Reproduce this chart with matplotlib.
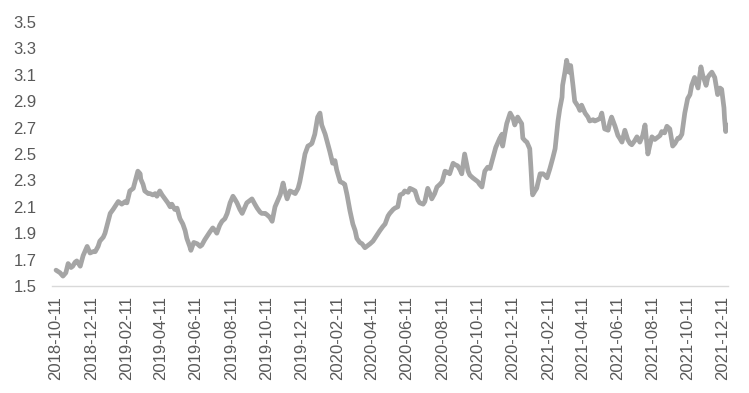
import matplotlib
matplotlib.use("Agg")
import matplotlib.pyplot as plt
import pandas as pd

dates = [
"2018-10-11","2018-10-18","2018-10-23","2018-10-28","2018-11-01","2018-11-06","2018-11-09","2018-11-13","2018-11-16","2018-11-22",
"2018-11-27","2018-11-30","2018-12-04","2018-12-09","2018-12-14","2018-12-18","2018-12-23","2018-12-26","2019-01-01","2019-01-04",
"2019-01-07","2019-01-13","2019-01-18","2019-01-21","2019-01-27","2019-02-02","2019-02-08","2019-02-11","2019-02-16","2019-02-22",
"2019-02-27","2019-03-02","2019-03-06","2019-03-07","2019-03-11","2019-03-14","2019-03-20","2019-03-23","2019-03-28","2019-04-01",
"2019-04-04","2019-04-09","2019-04-13","2019-04-18","2019-04-23","2019-04-27","2019-04-30","2019-05-05","2019-05-09","2019-05-14",
"2019-05-19","2019-05-23","2019-05-26","2019-05-31","2019-06-02","2019-06-07","2019-06-13","2019-06-18","2019-06-21","2019-06-26",
"2019-07-02","2019-07-05","2019-07-10","2019-07-14","2019-07-17","2019-07-22","2019-07-26","2019-07-31","2019-08-04","2019-08-09",
"2019-08-14","2019-08-17","2019-08-21","2019-08-26","2019-08-30","2019-09-04","2019-09-07","2019-09-13","2019-09-16","2019-09-21",
"2019-09-25","2019-09-30","2019-10-03","2019-10-09","2019-10-12","2019-10-17","2019-10-21","2019-10-26","2019-10-31","2019-11-04",
"2019-11-09","2019-11-12","2019-11-16","2019-11-21","2019-11-26","2019-11-30","2019-12-05","2019-12-08","2019-12-12","2019-12-17",
"2019-12-22","2019-12-26","2019-12-29","2020-01-03","2020-01-08","2020-01-12","2020-01-15","2020-01-21","2020-01-26","2020-01-29",
"2020-02-03","2020-02-07","2020-02-10","2020-02-16","2020-02-21","2020-02-24","2020-02-28","2020-03-04","2020-03-09","2020-03-13",
"2020-03-16","2020-03-21","2020-03-25","2020-03-30","2020-04-02","2020-04-08","2020-04-13","2020-04-16","2020-04-22","2020-04-25",
"2020-04-30","2020-05-04","2020-05-09","2020-05-12","2020-05-18","2020-05-21","2020-05-26","2020-05-30","2020-06-04","2020-06-07",
"2020-06-13","2020-06-16","2020-06-21","2020-06-25","2020-06-30","2020-07-03","2020-07-09","2020-07-12","2020-07-17","2020-07-21",
"2020-07-24","2020-07-29","2020-08-02","2020-08-07","2020-08-11","2020-08-16","2020-08-21","2020-08-24","2020-08-30","2020-09-02",
"2020-09-07","2020-09-11","2020-09-14","2020-09-19","2020-09-25","2020-09-28","2020-10-03","2020-10-09","2020-10-12","2020-10-15",
"2020-10-19","2020-10-24","2020-10-29","2020-11-02","2020-11-07","2020-11-12","2020-11-16","2020-11-19","2020-11-23","2020-11-24",
"2020-11-28","2020-12-01","2020-12-07","2020-12-12","2020-12-15","2020-12-20","2020-12-24","2020-12-27","2020-12-29","2021-01-02",
"2021-01-05","2021-01-10","2021-01-12","2021-01-14","2021-01-15","2021-01-19","2021-01-22","2021-01-28","2021-02-02","2021-02-05",
"2021-02-09","2021-02-14","2021-02-19","2021-02-23","2021-02-28","2021-03-03","2021-03-07","2021-03-08","2021-03-12","2021-03-15",
"2021-03-19","2021-03-22","2021-03-26","2021-03-29","2021-04-04","2021-04-07","2021-04-10","2021-04-16","2021-04-21","2021-04-24",
"2021-04-30","2021-05-03","2021-05-08","2021-05-12","2021-05-15","2021-05-20","2021-05-26","2021-05-29","2021-06-01","2021-06-07",
"2021-06-12","2021-06-15","2021-06-19","2021-06-24","2021-06-29","2021-07-03","2021-07-06","2021-07-11","2021-07-15","2021-07-20",
"2021-07-25","2021-07-29","2021-08-03","2021-08-06","2021-08-10","2021-08-15","2021-08-18","2021-08-24","2021-08-27","2021-09-01",
"2021-09-05","2021-09-10","2021-09-15","2021-09-19","2021-09-24","2021-09-27","2021-10-01","2021-10-06","2021-10-11","2021-10-15",
"2021-10-18","2021-10-23","2021-10-29","2021-11-03","2021-11-06","2021-11-12","2021-11-15","2021-11-18","2021-11-22","2021-11-27",
"2021-12-02","2021-12-06","2021-12-09","2021-12-13","2021-12-14","2021-12-16","2021-12-18",
]

values = [
1.62,1.60,1.575,1.60,1.67,1.64,1.65,1.68,1.69,1.65,
1.73,1.76,1.80,1.75,1.76,1.76,1.80,1.84,1.87,1.90,
1.95,2.05,2.08,2.10,2.14,2.12,2.14,2.13,2.22,2.24,
2.32,2.37,2.35,2.31,2.27,2.22,2.20,2.20,2.19,2.20,
2.18,2.22,2.19,2.16,2.13,2.10,2.12,2.08,2.09,2.01,
1.97,1.92,1.86,1.80,1.77,1.83,1.82,1.80,1.81,1.85,
1.89,1.91,1.94,1.92,1.90,1.96,1.99,2.01,2.05,2.13,
2.18,2.16,2.13,2.08,2.05,2.10,2.13,2.15,2.16,2.12,
2.09,2.06,2.05,2.05,2.04,2.02,1.99,2.10,2.15,2.19,
2.28,2.22,2.16,2.22,2.21,2.20,2.24,2.29,2.38,2.50,
2.56,2.57,2.58,2.65,2.78,2.81,2.72,2.65,2.57,2.52,
2.43,2.45,2.38,2.29,2.28,2.27,2.19,2.07,1.97,1.92,
1.86,1.83,1.82,1.79,1.80,1.82,1.84,1.86,1.90,1.92,
1.95,1.97,2.03,2.05,2.08,2.09,2.10,2.19,2.20,2.22,
2.21,2.24,2.23,2.22,2.15,2.13,2.12,2.14,2.24,2.20,
2.16,2.20,2.25,2.27,2.29,2.37,2.36,2.35,2.43,2.42,
2.41,2.38,2.35,2.50,2.37,2.34,2.32,2.30,2.29,2.27,
2.25,2.37,2.40,2.39,2.47,2.55,2.59,2.62,2.65,2.56,
2.66,2.73,2.81,2.77,2.72,2.78,2.75,2.73,2.62,2.60,
2.59,2.54,2.40,2.24,2.19,2.22,2.24,2.35,2.35,2.34,
2.32,2.39,2.47,2.54,2.75,2.84,2.93,3.02,3.12,3.21,
3.12,3.17,3.02,2.90,2.86,2.83,2.87,2.81,2.78,2.75,
2.76,2.75,2.76,2.77,2.81,2.69,2.68,2.74,2.78,2.71,
2.64,2.62,2.59,2.68,2.61,2.58,2.57,2.60,2.63,2.59,
2.64,2.72,2.50,2.56,2.63,2.61,2.62,2.64,2.67,2.66,
2.71,2.69,2.56,2.58,2.62,2.62,2.65,2.81,2.92,2.95,
3.02,3.08,3.00,3.16,3.10,3.02,3.08,3.10,3.12,3.08,
2.95,3.00,2.99,2.85,2.77,2.67,2.72,
]

tick_dates = ["2018-10-11","2018-12-11","2019-02-11","2019-04-11","2019-06-11","2019-08-11",
              "2019-10-11","2019-12-11","2020-02-11","2020-04-11","2020-06-11","2020-08-11",
              "2020-10-11","2020-12-11","2021-02-11","2021-04-11","2021-06-11","2021-08-11",
              "2021-10-11","2021-12-11"]
y_ticks = [1.5, 1.7, 1.9, 2.1, 2.3, 2.5, 2.7, 2.9, 3.1, 3.3, 3.5]

x = pd.to_datetime(dates)
ticks = pd.to_datetime(tick_dates)

plt.rcParams['font.family'] = ['Liberation Sans', 'DejaVu Sans']

fig = plt.figure(figsize=(7.49, 3.93), dpi=100)
ax = fig.add_axes([52/749, 1-286/393, 676/749, 264/393])
ax.plot(x, values, color='#A5A5A5', linewidth=3.4, solid_joinstyle='round',
        solid_capstyle='round')

ax.set_ylim(1.5, 3.5)
ax.set_yticks(y_ticks)
ax.set_yticklabels([f"{v:.1f}" for v in y_ticks])
ax.set_xlim(pd.Timestamp("2018-10-04"), pd.Timestamp("2021-12-20"))
ax.set_xticks(ticks)
ax.set_xticklabels(tick_dates)

for s in ['top', 'right', 'left']:
    ax.spines[s].set_visible(False)
ax.spines['bottom'].set_color('#D9D9D9')
ax.spines['bottom'].set_linewidth(1.0)

ax.tick_params(axis='y', length=0, pad=11, labelsize=12, labelcolor='#595959')
ax.tick_params(axis='x', length=0, pad=7, labelsize=12, labelcolor='#595959', labelrotation=90)

fig.savefig("out.png", dpi=100)
